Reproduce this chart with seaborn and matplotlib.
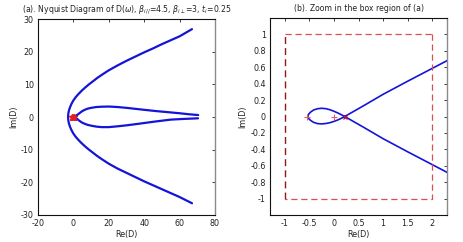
import matplotlib
matplotlib.use("Agg")
import matplotlib.pyplot as plt
import seaborn as sns
import pandas as pd
from matplotlib.ticker import FormatStrFormatter

# ---- data ----
# outer (parabola-like) branch of D(omega)
outer_re = [67.0, 60.0, 55.0, 50.0, 45.0, 40.0, 35.0, 30.0, 25.0, 20.0, 16.3, 13.6, 11.2, 8.8,
            6.6, 4.6, 2.8, 1.2, -0.1, -1.1, -1.9, -2.52, -2.88, -3.0,
            -2.88, -2.52, -1.9, -1.1, -0.1, 1.2, 2.8, 4.6, 6.6, 8.8, 11.2, 13.6, 16.3, 20.0,
            25.0, 30.0, 35.0, 40.0, 45.0, 50.0, 55.0, 60.0, 67.0]
outer_im = [26.9, 24.7, 23.5, 22.3, 21.0, 19.8, 18.5, 17.2, 15.8, 14.3, 13.0, 12.0, 11.0, 10.0,
            9.0, 8.0, 7.0, 6.0, 5.0, 4.0, 3.0, 2.0, 1.0, 0.0,
            -1.0, -2.0, -3.0, -4.0, -5.0, -6.0, -7.0, -8.0, -9.0, -10.0, -11.0, -12.0, -13.0, -14.3,
            -15.8, -17.1, -18.4, -19.7, -20.9, -22.1, -23.3, -24.5, -26.4]

# inner (teardrop) branch, including the small loop near the origin
inner_re = [70.5, 65.0, 60.0, 53.0, 46.0, 40.0, 35.0, 30.0, 25.0, 20.0, 16.0, 13.0, 10.0, 8.0,
            6.4, 5.0, 4.0, 3.0, 2.3, 1.5, 1.0, 0.6, 0.22,
            0.15, 0.08, 0.0, -0.08, -0.16, -0.25, -0.33, -0.41, -0.47, -0.515, -0.53,
            -0.515, -0.47, -0.41, -0.33, -0.25, -0.16, -0.08, 0.0, 0.08, 0.15, 0.22,
            0.6, 1.0, 1.5, 2.3, 3.0, 4.0, 5.0, 6.5, 8.0, 10.0, 13.0, 16.0, 20.0, 25.0,
            30.0, 36.5, 46.0, 55.0, 62.0, 70.4]
inner_im = [0.6, 0.85, 1.15, 1.5, 1.85, 2.2, 2.5, 2.8, 3.05, 3.2, 3.15, 3.05, 2.8, 2.55,
            2.2, 1.8, 1.4, 1.0, 0.68, 0.43, 0.27, 0.13, 0.0,
            -0.022, -0.042, -0.06, -0.075, -0.085, -0.09, -0.087, -0.072, -0.05, -0.025, 0.0,
            0.028, 0.056, 0.08, 0.095, 0.1, 0.095, 0.082, 0.064, 0.043, 0.022, 0.0,
            -0.13, -0.27, -0.43, -0.68, -1.0, -1.4, -1.75, -2.1, -2.4, -2.65, -2.95, -3.1, -3.1, -2.85,
            -2.55, -2.1, -1.4, -0.8, -0.6, -0.4]

# red markers on the real axis
mark_re = [-0.55, 0.0, 0.22]
mark_im = [0.0, 0.0, 0.0]

# zoom box
box_re = [-1, 2, 2, -1, -1]
box_im = [1, 1, -1, -1, 1]

title_a = r'(a). Nyquist Diagram of D($\omega$), $\beta_{i//}$=4.5, $\beta_{i\perp}$=3, $t_i$=0.25'
title_b = '(b). Zoom in the box region of (a)'

sns.set_style("white")
plt.rcParams['font.family'] = ['DejaVu Sans']
plt.rcParams['axes.unicode_minus'] = False
plt.rcParams['mathtext.fontset'] = 'dejavusans'

df_out = pd.DataFrame({'re': outer_re, 'im': outer_im})
df_in = pd.DataFrame({'re': inner_re, 'im': inner_im})
df_mk = pd.DataFrame({'re': mark_re, 'im': mark_im})

fig = plt.figure(figsize=(4.63, 2.42), dpi=100)
ax1 = fig.add_axes([38/463, 1-215/242, 177/463, 196/242])
ax2 = fig.add_axes([270/463, 1-215/242, 177/463, 197/242])

blue = '#1414d8'
for ax, lw in ((ax1, 1.6), (ax2, 1.2)):
    sns.lineplot(data=df_out, x='re', y='im', sort=False, estimator=None, ax=ax,
                 color=blue, linewidth=lw)
    sns.lineplot(data=df_in, x='re', y='im', sort=False, estimator=None, ax=ax,
                 color=blue, linewidth=lw)

# markers
ax1.plot(df_mk['re'], df_mk['im'], linestyle='none', marker='*', color='#e02020',
         markersize=5)
ax2.plot(df_mk['re'][:2], df_mk['im'][:2], linestyle='none', marker='+', color='#e06070',
         markersize=5, markeredgewidth=0.8)
ax2.plot(df_mk['re'][2:], df_mk['im'][2:], linestyle='none', marker='x', color='#c01030',
         markersize=3.5, markeredgewidth=0.9)

# zoom box
ax2.plot(box_re[1:4], box_im[1:4], linestyle=(0, (5, 3)), color='#d85050', linewidth=0.9)
ax2.plot([box_re[0], box_re[1]], [box_im[0], box_im[1]], linestyle=(0, (5, 3)),
         color='#d85050', linewidth=0.9)
ax2.plot([box_re[3], box_re[4]], [box_im[3], box_im[4]], linestyle=(0, (5, 3)),
         color='#901818', linewidth=1.0)

ax1.set_xlim(-20, 80)
ax1.set_ylim(-30, 30)
ax1.set_xticks([-20, 0, 20, 40, 60, 80])
ax1.set_yticks([-30, -20, -10, 0, 10, 20, 30])

ax2.set_xlim(-1.3, 2.3)
ax2.set_ylim(-1.2, 1.2)
ax2.set_xticks([-1, -0.5, 0, 0.5, 1, 1.5, 2])
ax2.set_yticks([-1, -0.8, -0.6, -0.4, -0.2, 0, 0.2, 0.4, 0.6, 0.8, 1])
ax2.xaxis.set_major_formatter(FormatStrFormatter('%g'))
ax2.yaxis.set_major_formatter(FormatStrFormatter('%g'))

for ax, t in ((ax1, title_a), (ax2, title_b)):
    ax.set_title(t, fontsize=5.6, color='#222222', pad=5)
    ax.set_xlabel('Re(D)', fontsize=5.8, color='#222222', labelpad=1.5)
    ax.set_ylabel('Im(D)', fontsize=5.8, color='#222222', labelpad=2)
    ax.tick_params(direction='in', length=2.5, width=0.6, labelsize=5.8,
                   colors='#222222', top=True, right=True, pad=3)
    for side in ('left', 'bottom', 'top'):
        ax.spines[side].set_color('#111111')
        ax.spines[side].set_linewidth(0.8)
    ax.spines['right'].set_color('#8a8a8a')
    ax.spines['right'].set_linewidth(1.0)
    ax.set_facecolor('white')

fig.savefig('out.png', dpi=100, facecolor='white')
